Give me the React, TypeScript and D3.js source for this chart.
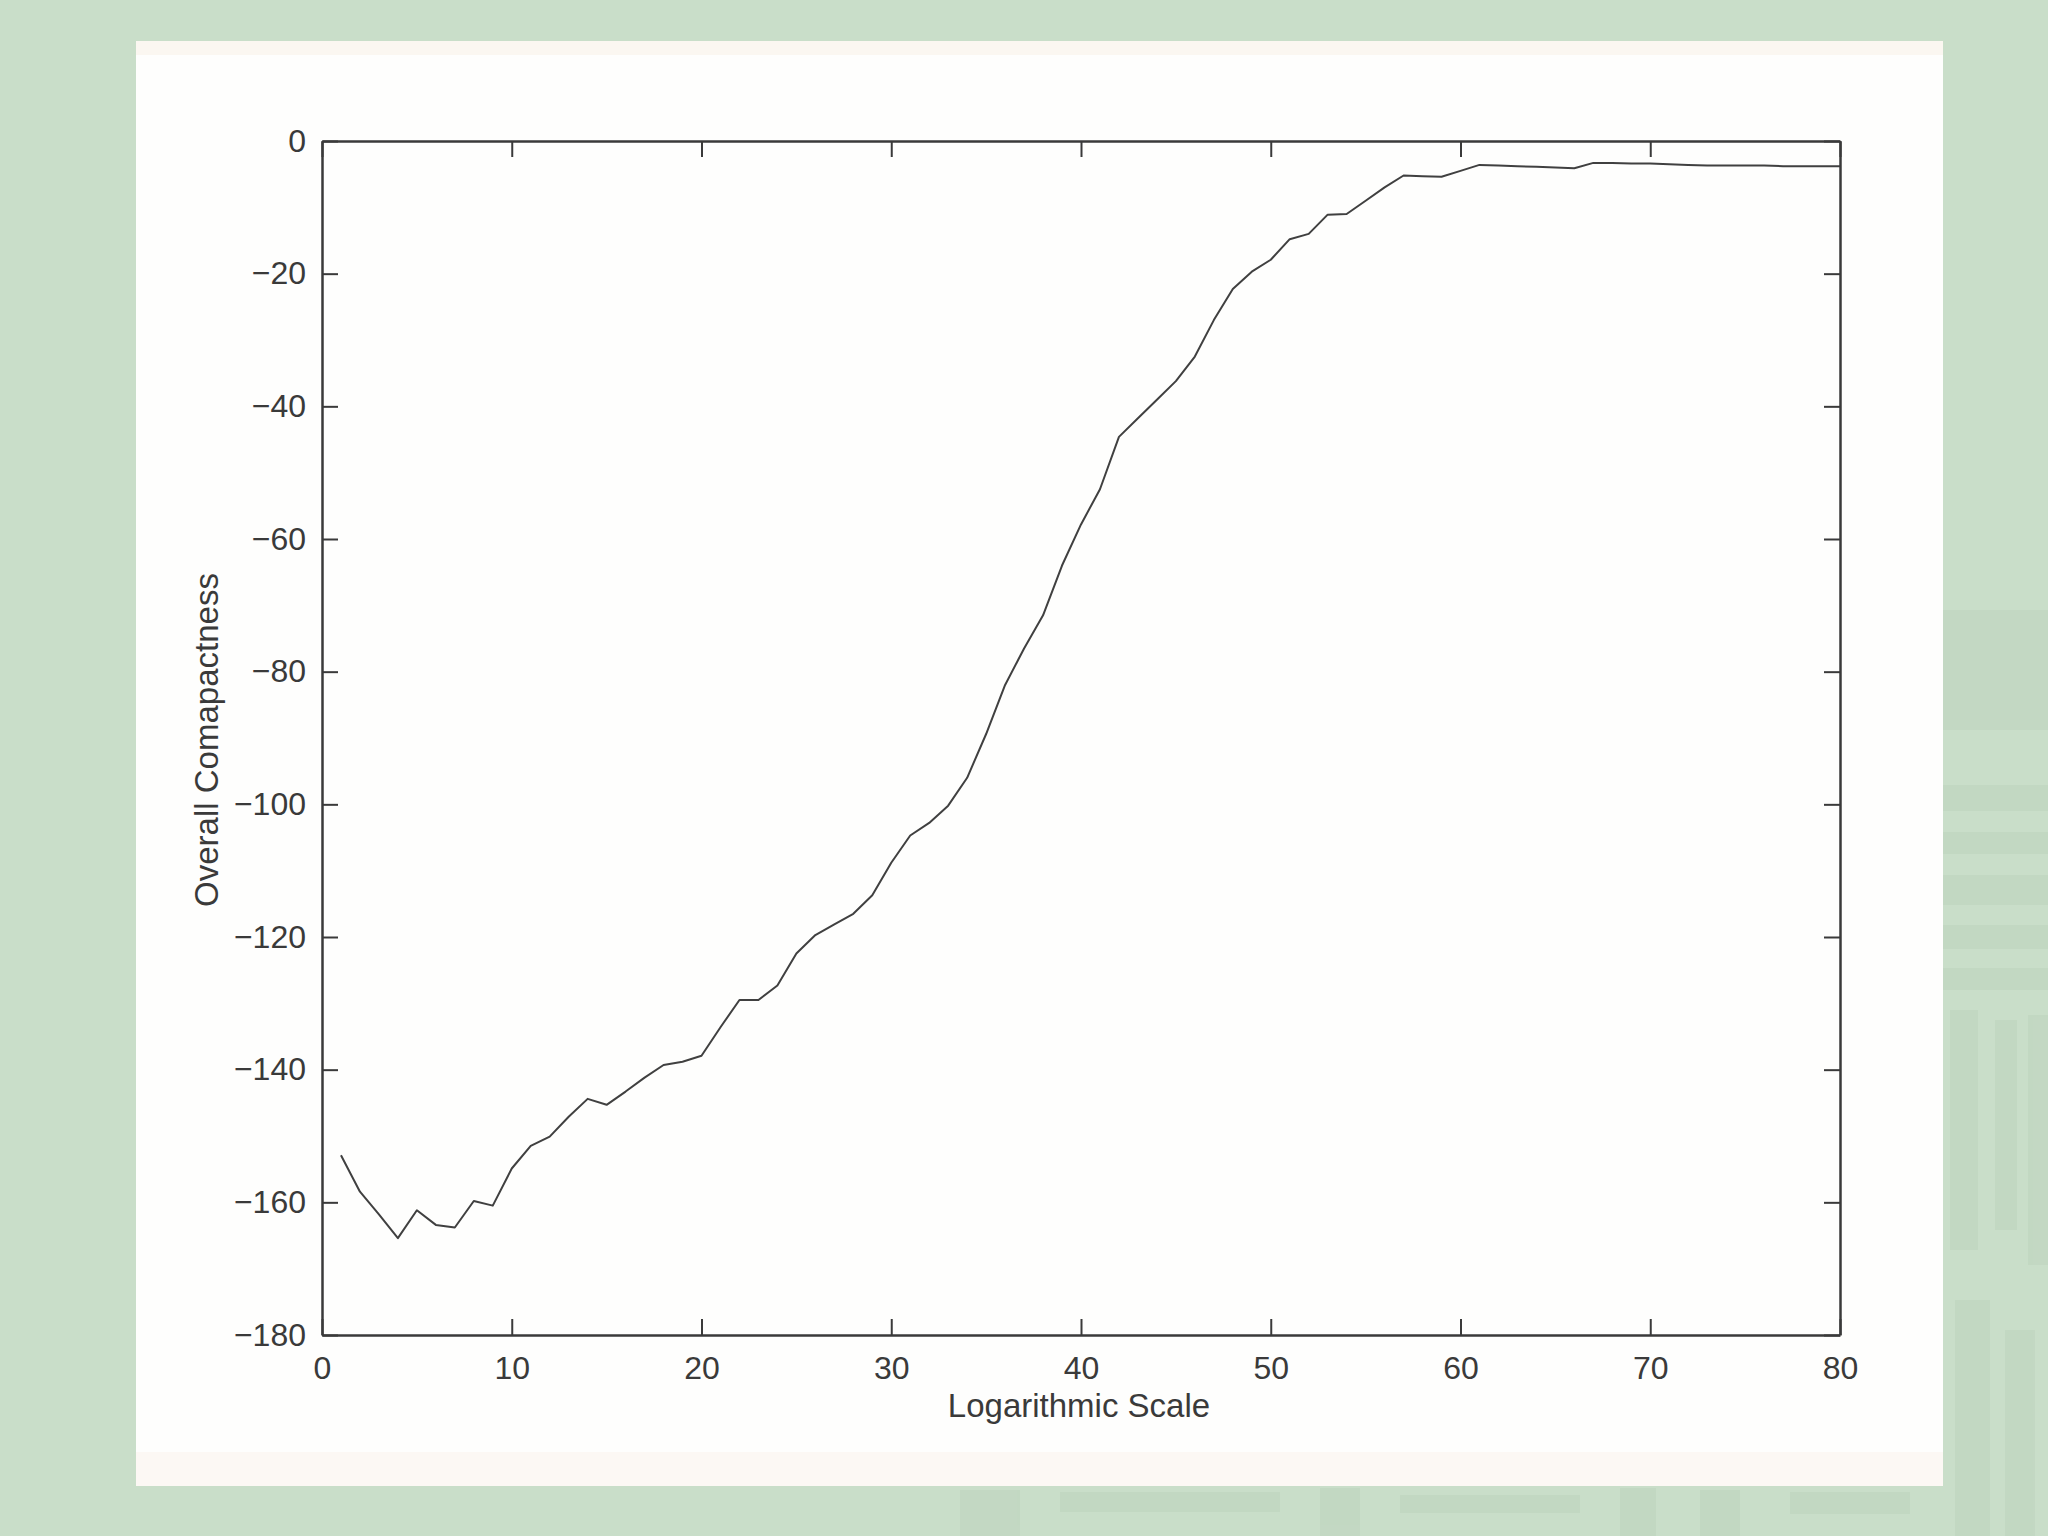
import React, { useRef, useEffect } from "react";
import * as d3 from "d3";

// sample index on the horizontal axis
const steps = d3.range(1, 81);

// overall compactness, one value per step
const compactness = [
  -152.9, -158.4, -161.8, -165.4, -161.2, -163.4, -163.8, -159.8, -160.5, -154.9,
  -151.5, -150.1, -147.1, -144.4, -145.3, -143.3, -141.2, -139.3, -138.8, -137.9,
  -133.6, -129.5, -129.5, -127.3, -122.5, -119.7, -118.1, -116.5, -113.7, -108.8,
  -104.7, -102.8, -100.2, -96.0, -89.4, -82.0, -76.5, -71.5, -64.0, -57.8,
  -52.5, -44.6, -41.8, -39.0, -36.2, -32.5, -27.0, -22.3, -19.7, -17.9,
  -14.8, -14.0, -11.1, -11.0, -9.0, -7.0, -5.2, -5.3, -5.4, -4.5,
  -3.6, -3.7, -3.8, -3.9, -4.0, -4.1, -3.3, -3.3, -3.4, -3.4,
  -3.5, -3.6, -3.7, -3.7, -3.7, -3.7, -3.8, -3.8, -3.8, -3.8,
];

const xTicks = [0, 10, 20, 30, 40, 50, 60, 70, 80];
const yTicks = [0, -20, -40, -60, -80, -100, -120, -140, -160, -180];

const xLabel = "Logarithmic Scale";
const yLabel = "Overall Comapactness";

const width = 2048;
const height = 1536;
const left = 322;
const right = 1840;
const top = 141;
const bottom = 1335;

const ink = "#3a3a3a";
const font = "'Liberation Sans', Arial, Helvetica, sans-serif";

export default function App() {
  const gx = useRef<SVGGElement>(null);
  const gy = useRef<SVGGElement>(null);
  const gTop = useRef<SVGGElement>(null);
  const gRight = useRef<SVGGElement>(null);

  const x = d3.scaleLinear([0, 80], [left, right]);
  const y = d3.scaleLinear([-180, 0], [bottom, top]);

  const line = d3.line<number>((d, i) => x(steps[i]), (d) => y(d));

  useEffect(() => {
    const fmt = (d: d3.NumberValue) => {
      const v = +d;
      return v < 0 ? "\u2212" + Math.abs(v) : String(v);
    };

    const style = (g: d3.Selection<SVGGElement, unknown, null, undefined>) => {
      g.attr("font-family", font).attr("font-size", 32);
      g.selectAll("path.domain").attr("stroke", ink).attr("stroke-width", 2.5);
      g.selectAll(".tick line").attr("stroke", ink).attr("stroke-width", 2);
      g.selectAll(".tick text").attr("fill", "#3a3a3a");
    };

    d3.select(gx.current!)
      .call(d3.axisBottom(x).tickValues(xTicks).tickSizeInner(-16).tickSizeOuter(0).tickPadding(21).tickFormat(fmt))
      .call(style);
    d3.select(gy.current!)
      .call(d3.axisLeft(y).tickValues(yTicks).tickSizeInner(-16).tickSizeOuter(0).tickPadding(16).tickFormat(fmt))
      .call(style);
    d3.select(gTop.current!)
      .call(d3.axisTop(x).tickValues(xTicks).tickSizeInner(-16).tickSizeOuter(0).tickFormat(() => ""))
      .call(style);
    d3.select(gRight.current!)
      .call(d3.axisRight(y).tickValues(yTicks).tickSizeInner(-16).tickSizeOuter(0).tickFormat(() => ""))
      .call(style);
  }, []);

  return (
    <div style={{ position: "absolute", left: 0, top: 0 }}>
      <svg width={width} height={height} style={{ display: "block" }}>
        <rect width={width} height={height} fill="#c9dec9" />

        {/* faint texture of the slide background */}
        <g fill="#b6cfb6" opacity={0.35}>
          <rect x={1943} y={610} width={105} height={120} />
          <rect x={1943} y={785} width={105} height={26} />
          <rect x={1943} y={832} width={105} height={22} />
          <rect x={1943} y={875} width={105} height={30} />
          <rect x={1943} y={925} width={105} height={24} />
          <rect x={1943} y={968} width={105} height={22} />
          <rect x={1950} y={1010} width={28} height={240} />
          <rect x={1995} y={1020} width={22} height={210} />
          <rect x={2028} y={1015} width={20} height={250} />
          <rect x={1955} y={1300} width={35} height={236} />
          <rect x={2005} y={1330} width={30} height={206} />
          <rect x={960} y={1490} width={60} height={46} />
          <rect x={1060} y={1492} width={220} height={20} />
          <rect x={1320} y={1488} width={40} height={48} />
          <rect x={1400} y={1495} width={180} height={18} />
          <rect x={1620} y={1488} width={36} height={48} />
          <rect x={1700} y={1490} width={40} height={46} />
          <rect x={1790} y={1492} width={120} height={22} />
        </g>

        {/* scanned page */}
        <rect x={136} y={41} width={1807} height={1445} fill="#fefefd" />
        <rect x={136} y={41} width={1807} height={14} fill="#fbf7f1" />
        <rect x={136} y={1452} width={1807} height={34} fill="#fcf8f4" />

        <path d={line(compactness)!} fill="none" stroke="#404040" strokeWidth={2} strokeLinejoin="round" />

        <g ref={gTop} transform={`translate(0,${top})`} />
        <g ref={gRight} transform={`translate(${right},0)`} />
        <g ref={gx} transform={`translate(0,${bottom})`} />
        <g ref={gy} transform={`translate(${left},0)`} />

        <text x={1079} y={1417} textAnchor="middle" fontFamily={font} fontSize={33} fill="#3a3a3a">
          {xLabel}
        </text>
        <text
          transform={`translate(218,740) rotate(-90)`}
          textAnchor="middle"
          fontFamily={font}
          fontSize={33}
          fill="#3a3a3a"
        >
          {yLabel}
        </text>
      </svg>
    </div>
  );
}
